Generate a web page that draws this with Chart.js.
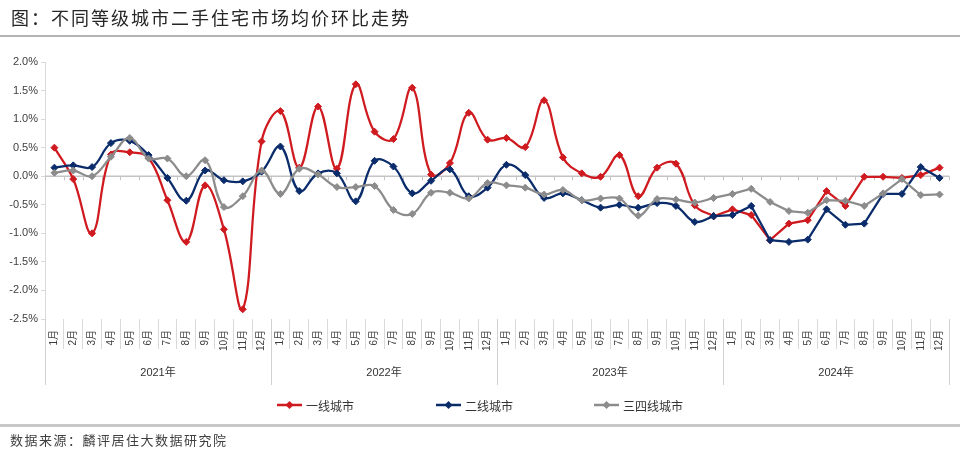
<!DOCTYPE html>
<html><head><meta charset="utf-8">
<script src="https://cdn.jsdelivr.net/npm/chart.js@4.4.1/dist/chart.umd.min.js"></script>
<style>
html,body{margin:0;padding:0;background:#fff;}
#wrap{position:relative;width:960px;height:452px;overflow:hidden;font-family:"Noto Sans CJK SC",sans-serif;}
#title{position:absolute;left:11px;top:5px;font-size:18px;letter-spacing:2px;color:#262626;line-height:24px;white-space:nowrap;}
#tline{position:absolute;left:0;top:35px;width:960px;height:2px;background:#b4b4b4;}
#bline{position:absolute;left:0;top:424px;width:960px;height:3px;background:#c8c8c8;}
#src{position:absolute;left:10px;top:431px;font-size:13px;letter-spacing:1.5px;color:#404040;line-height:18px;white-space:nowrap;}
#legend{position:absolute;top:396px;left:0;width:960px;height:18px;}
.li{position:absolute;top:0;height:18px;display:flex;align-items:center;font-size:12px;color:#333;white-space:nowrap;}
.li svg{margin-right:4px;}
canvas{position:absolute;left:0;top:0;}
</style>
</head>
<body>
<div id="wrap">
  <canvas id="c" width="960" height="452"></canvas>
  <div id="title">图：不同等级城市二手住宅市场均价环比走势</div>
  <div id="tline"></div>
  <div id="legend"></div>
  <div id="bline"></div>
  <div id="src">数据来源：麟评居住大数据研究院</div>
</div>
<script>
// ---- data ----
const years = ['2021年', '2022年', '2023年', '2024年'];
const monthNames = ['1月','2月','3月','4月','5月','6月','7月','8月','9月','10月','11月','12月'];
const seriesNames = ['一线城市', '二线城市', '三四线城市'];
const seriesColors = ['#CF1A1F', '#0B2C6B', '#8C8C8C'];

const tier1 = [
  0.50, -0.05, -1.00, 0.38, 0.42, 0.32, -0.42, -1.15, -0.16, -0.93, -2.33, 0.61,
  1.14, 0.15, 1.22, 0.13, 1.61, 0.78, 0.65, 1.55, 0.03, 0.23, 1.11, 0.64,
  0.67, 0.51, 1.33, 0.33, 0.05, -0.01, 0.37, -0.35, 0.15, 0.22, -0.51, -0.70,
  -0.58, -0.68, -1.12, -0.83, -0.77, -0.26, -0.52, -0.01, -0.01, -0.03, 0.02, 0.15
];
const tier2 = [
  0.15, 0.19, 0.16, 0.58, 0.62, 0.37, -0.03, -0.43, 0.10, -0.07, -0.09, 0.08,
  0.52, -0.26, 0.05, 0.05, -0.44, 0.27, 0.17, -0.30, -0.08, 0.12, -0.35, -0.20,
  0.20, 0.02, -0.38, -0.30, -0.42, -0.55, -0.50, -0.55, -0.47, -0.52, -0.80, -0.70,
  -0.68, -0.52, -1.12, -1.15, -1.11, -0.58, -0.85, -0.83, -0.31, -0.31, 0.16, -0.03
];
const tier34 = [
  0.06, 0.10, 0.00, 0.34, 0.67, 0.31, 0.31, 0.00, 0.28, -0.54, -0.35, 0.10,
  -0.31, 0.13, 0.03, -0.19, -0.19, -0.17, -0.59, -0.66, -0.29, -0.29, -0.39, -0.12,
  -0.16, -0.20, -0.32, -0.24, -0.42, -0.39, -0.39, -0.69, -0.40, -0.41, -0.46, -0.38,
  -0.31, -0.22, -0.45, -0.61, -0.64, -0.42, -0.43, -0.52, -0.30, -0.05, -0.33, -0.32
];
const yMin = -2.5, yMax = 2.0, yStep = 0.5;

// ---- build ----
const categories = years.flatMap(() => monthNames);
const seriesValues = [tier1, tier2, tier34];
const splitIdx = 35; // smoothed through Dec 2023, straight segments in 2024
const drawOrder = [3, 2, 1];

const datasets = [];
seriesValues.forEach((vals, s) => {
  const base = {
    borderColor: seriesColors[s], backgroundColor: seriesColors[s],
    pointBackgroundColor: seriesColors[s], pointBorderColor: seriesColors[s],
    borderWidth: 2.25, pointStyle: 'rectRot', pointRadius: 3.5, pointBorderWidth: 1,
    order: drawOrder[s], spanGaps: false
  };
  datasets.push(Object.assign({}, base, {
    label: seriesNames[s], tension: 0.4,
    data: vals.map((v, i) => i <= splitIdx ? v : null)
  }));
  datasets.push(Object.assign({}, base, {
    label: seriesNames[s] + ' ', tension: 0,
    data: vals.map((v, i) => i >= splitIdx ? v : null)
  }));
});

// legend (HTML)
const legendX = [277, 436, 594];
const lg = document.getElementById('legend');
seriesNames.forEach((n, s) => {
  const d = document.createElement('div');
  d.className = 'li';
  d.style.left = legendX[s] + 'px';
  d.innerHTML = '<svg width="25" height="10"><line x1="0" y1="5" x2="25" y2="5" stroke="' + seriesColors[s] +
    '" stroke-width="2.5"/><polygon points="12.5,1 16.5,5 12.5,9 8.5,5" fill="' + seriesColors[s] + '"/></svg>' + n;
  lg.appendChild(d);
});

const decor = {
  id: 'decor',
  beforeDatasetsDraw(chart) {
    const { ctx, scales: { x, y }, chartArea } = chart;
    const y0 = y.getPixelForValue(0);
    const step = x.getPixelForValue(1) - x.getPixelForValue(0);
    ctx.save();
    ctx.strokeStyle = '#c4c4c4';
    ctx.lineWidth = 1.5;
    ctx.beginPath();
    ctx.moveTo(chartArea.left, y0); ctx.lineTo(chartArea.right, y0);
    ctx.stroke();
    ctx.lineWidth = 1;
    for (let i = 0; i <= categories.length; i++) {
      const px = Math.round(x.getPixelForValue(0) + (i - 0.5) * step) + 0.5;
      ctx.beginPath(); ctx.moveTo(px, y0); ctx.lineTo(px, y0 + 4); ctx.stroke();
    }
    ctx.restore();
  },
  afterDraw(chart) {
    const { ctx, scales: { x }, chartArea } = chart;
    const step = x.getPixelForValue(1) - x.getPixelForValue(0);
    ctx.save();
    ctx.strokeStyle = '#d0d0d0';
    ctx.lineWidth = 1;
    for (let k = 0; k <= years.length; k++) {
      const px = Math.round(x.getPixelForValue(0) + (k * 12 - 0.5) * step) + 0.5;
      ctx.beginPath(); ctx.moveTo(px, chartArea.bottom); ctx.lineTo(px, chartArea.bottom + 66); ctx.stroke();
    }
    ctx.fillStyle = '#333';
    ctx.font = '11px "Liberation Sans", "Noto Sans CJK SC", sans-serif';
    ctx.textAlign = 'center';
    ctx.textBaseline = 'middle';
    years.forEach((yr, k) => {
      const cx = (x.getPixelForValue(k * 12) + x.getPixelForValue(k * 12 + 11)) / 2;
      ctx.fillText(yr, cx, chartArea.bottom + 54);
    });
    ctx.restore();
  }
};

new Chart(document.getElementById('c'), {
  type: 'line',
  data: { labels: categories, datasets },
  options: {
    responsive: false, animation: false, devicePixelRatio: 1,
    layout: { padding: { top: 62, right: 11, bottom: 100, left: 0 } },
    plugins: { legend: { display: false }, tooltip: { enabled: false }, title: { display: false } },
    scales: {
      x: {
        type: 'category', offset: true,
        border: { display: false },
        grid: { offset: true, drawOnChartArea: false, drawTicks: true, tickLength: 30, color: '#d9d9d9', lineWidth: 1 },
        ticks: {
          autoSkip: false, maxRotation: 90, minRotation: 90, padding: -19,
          color: '#404040', font: { size: 10, family: '"Liberation Sans", "Noto Sans CJK SC", sans-serif' }
        },
        afterFit(scale) { scale.height = 33; }
      },
      y: {
        min: yMin, max: yMax,
        border: { display: true, color: '#d9d9d9', width: 1 },
        grid: { drawOnChartArea: false, drawTicks: true, tickLength: 4, color: '#d9d9d9' },
        ticks: {
          stepSize: yStep, padding: 3, color: '#404040',
          font: { size: 11, family: '"Liberation Sans", sans-serif' },
          callback: v => v.toFixed(1) + '%'
        },
        afterFit(scale) { scale.width = 45; }
      }
    }
  },
  plugins: [decor]
});
</script>
</body></html>
